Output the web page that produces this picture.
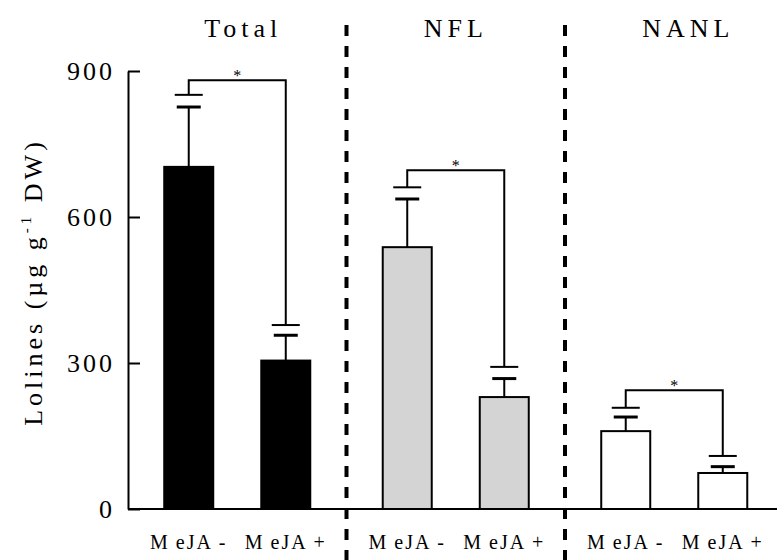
<!DOCTYPE html>
<html>
<head>
<meta charset="utf-8">
<script src="https://cdn.jsdelivr.net/npm/d3@7"></script>
<style>
  body { margin: 0; background: #fff; }
  svg text { font-family: "Liberation Serif", Tinos, "Times New Roman", Times, "DejaVu Serif", serif; fill: #000; }
</style>
</head>
<body>
<div id="wrapper"></div>
<script>
// data
const groups = ["Total", "NFL", "NANL"];
const treatments = ["MeJA -", "MeJA +"];
const meanValues = [[703, 305], [538, 230], [160, 74]];
const seValues = [[123, 52], [99, 38], [29, 13]];
// where the significance bracket legs end above each bar
const bracketEnds = [[851, 378], [661, 292], [208, 109]];
const bracketTops = [881, 696, 244];
const yTicks = [0, 300, 600, 900];
const yLabel = "Lolines (µg g";

const serif = '"Liberation Serif", Tinos, "Times New Roman", Times, "DejaVu Serif", serif';

function drawChart() {
  let dimensions = {
    width: 777,
    height: 560,
    margin: { top: 71, right: 0, bottom: 51, left: 128 },
  };
  dimensions.plotBottom = dimensions.height - dimensions.margin.bottom;

  const rows = groups.flatMap((g, i) =>
    treatments.map((t, j) => ({
      group: g,
      treatment: t,
      mean: meanValues[i][j],
      se: seValues[i][j],
      end: bracketEnds[i][j],
    }))
  );

  const svg = d3
    .select("#wrapper")
    .append("svg")
    .attr("width", dimensions.width)
    .attr("height", dimensions.height)
    .attr("font-family", serif);

  // scales
  const x0 = d3
    .scaleBand()
    .domain(groups)
    .range([dimensions.margin.left, dimensions.margin.left + 3 * 218.5]);
  const x1 = d3
    .scalePoint()
    .domain(treatments)
    .range([0, x0.bandwidth()])
    .padding(0.626);
  const y = d3
    .scaleLinear()
    .domain([0, 900])
    .range([dimensions.plotBottom, dimensions.margin.top]);
  const color = d3
    .scaleOrdinal()
    .domain(groups)
    .range(["#000000", "#d4d4d4", "#ffffff"]);

  const cx = (d) => x0(d.group) + x1(d.treatment);
  const barWidth = 49;

  // group separators
  svg
    .selectAll(".sep")
    .data(groups.slice(1))
    .join("line")
    .attr("class", "sep")
    .attr("x1", (d) => x0(d))
    .attr("x2", (d) => x0(d))
    .attr("y1", 25)
    .attr("y2", dimensions.height)
    .attr("stroke", "#000")
    .attr("stroke-width", 4)
    .attr("stroke-dasharray", "11,10");

  // y axis
  const yAxis = d3
    .axisLeft(y)
    .tickValues(yTicks)
    .tickSize(-12)
    .tickSizeOuter(0)
    .tickPadding(13);
  const yAxisGroup = svg
    .append("g")
    .attr("transform", `translate(${dimensions.margin.left},0)`)
    .call(yAxis)
    .attr("font-family", serif)
    .attr("font-size", 26);
  yAxisGroup.selectAll("path, line").attr("stroke-width", 2);
  yAxisGroup.selectAll("text").style("letter-spacing", "3px");

  // x baseline
  svg
    .append("line")
    .attr("x1", dimensions.margin.left)
    .attr("x2", dimensions.width)
    .attr("y1", y(0))
    .attr("y2", y(0))
    .attr("stroke", "#000")
    .attr("stroke-width", 2);

  // bars
  svg
    .selectAll(".bar")
    .data(rows)
    .join("rect")
    .attr("class", "bar")
    .attr("x", (d) => cx(d) - barWidth / 2)
    .attr("width", barWidth)
    .attr("y", (d) => y(d.mean))
    .attr("height", (d) => y(0) - y(d.mean))
    .attr("fill", (d) => color(d.group))
    .attr("stroke", "#000")
    .attr("stroke-width", 2);

  // error bars
  svg
    .selectAll(".err")
    .data(rows)
    .join("line")
    .attr("class", "err")
    .attr("x1", cx)
    .attr("x2", cx)
    .attr("y1", (d) => y(d.mean))
    .attr("y2", (d) => y(d.mean + d.se))
    .attr("stroke", "#000")
    .attr("stroke-width", 2);
  svg
    .selectAll(".err-cap")
    .data(rows)
    .join("line")
    .attr("class", "err-cap")
    .attr("x1", (d) => cx(d) - 12)
    .attr("x2", (d) => cx(d) + 12)
    .attr("y1", (d) => y(d.mean + d.se))
    .attr("y2", (d) => y(d.mean + d.se))
    .attr("stroke", "#000")
    .attr("stroke-width", 3);
  svg
    .selectAll(".leg-cap")
    .data(rows)
    .join("line")
    .attr("class", "leg-cap")
    .attr("x1", (d) => cx(d) - 14)
    .attr("x2", (d) => cx(d) + 14)
    .attr("y1", (d) => y(d.end))
    .attr("y2", (d) => y(d.end))
    .attr("stroke", "#000")
    .attr("stroke-width", 2);

  // significance brackets
  const brackets = groups.map((g, i) => ({
    group: g,
    top: bracketTops[i],
    left: rows.find((r) => r.group == g && r.treatment == treatments[0]),
    right: rows.find((r) => r.group == g && r.treatment == treatments[1]),
  }));
  svg
    .selectAll(".bracket")
    .data(brackets)
    .join("path")
    .attr("class", "bracket")
    .attr(
      "d",
      (d) =>
        `M${cx(d.left)},${y(d.left.end)}V${y(d.top)}H${cx(d.right)}V${y(d.right.end)}`
    )
    .attr("fill", "none")
    .attr("stroke", "#000")
    .attr("stroke-width", 2);
  svg
    .selectAll(".star")
    .data(brackets)
    .join("text")
    .attr("class", "star")
    .attr("x", (d) => (cx(d.left) + cx(d.right)) / 2)
    .attr("y", (d) => y(d.top) + 1)
    .attr("text-anchor", "middle")
    .style("font-size", "16px")
    .text("*");

  // group titles
  const titleShift = { Total: 6, NFL: 0, NANL: 14 };
  svg
    .selectAll(".title")
    .data(groups)
    .join("text")
    .attr("class", "title")
    .attr("x", (d) => x0(d) + x0.bandwidth() / 2 + titleShift[d])
    .attr("y", 37)
    .attr("text-anchor", "middle")
    .style("font-size", "26px")
    .style("letter-spacing", "5px")
    .text((d) => d);

  // treatment labels
  const labels = svg
    .selectAll(".xlabel")
    .data(rows)
    .join("text")
    .attr("class", "xlabel")
    .attr("x", cx)
    .attr("y", 549)
    .attr("text-anchor", "middle")
    .style("font-size", "20px")
    .style("letter-spacing", "2px");
  labels.append("tspan").text((d) => d.treatment.slice(0, 1));
  labels
    .append("tspan")
    .attr("dx", 6)
    .text((d) => d.treatment.slice(1));

  // y axis title
  const yTitle = svg
    .append("text")
    .attr("transform", `translate(42,282) rotate(-90)`)
    .attr("text-anchor", "middle")
    .style("font-size", "26px")
    .style("letter-spacing", "4px");
  yTitle.append("tspan").text(yLabel);
  yTitle
    .append("tspan")
    .attr("dy", -11)
    .style("font-size", "15px")
    .text("-1");
  yTitle.append("tspan").attr("dy", 11).text(" DW)");
}
drawChart();
</script>
</body>
</html>
